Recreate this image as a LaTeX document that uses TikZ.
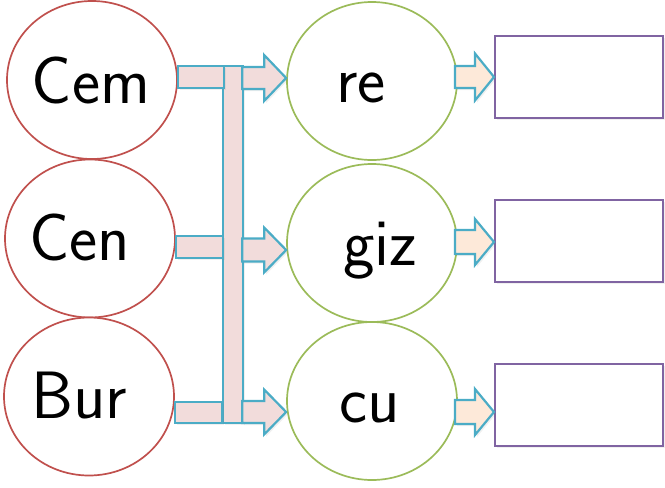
\documentclass[tikz,border=0pt]{standalone}
\usepackage{fontspec}
\usetikzlibrary{shapes.geometric,shadows,calc}

\definecolor{redline}{HTML}{C0504D}
\definecolor{greenline}{HTML}{9BBB59}
\definecolor{purpleline}{HTML}{8064A2}
\definecolor{blueline}{HTML}{4BACC6}
\definecolor{pinkfill}{HTML}{F2DCDB}
\definecolor{peachfill}{HTML}{FDE9D9}

% block arrow: style, tip, length, head length, shaft half width, head half width
\newcommand{\blockarrow}[6]{%
  \draw[#1] (#2) -- ++(-#4,-#6) -- ++(0,#6-#5) -- ++(#4-#3,0) -- ++(0,2*#5)
    -- ++(#3-#4,0) -- ++(0,#6-#5) -- cycle;}

\begin{document}
\begin{tikzpicture}[x=1pt, y=-1pt,
  redell/.style={ellipse, draw=redline, line width=1.7pt, fill=white, minimum width=170pt, minimum height=158pt, inner sep=0pt},
  greenell/.style={ellipse, draw=greenline, line width=1.7pt, fill=white, minimum width=170pt, minimum height=158pt, inner sep=0pt},
  answer/.style={rectangle, draw=purpleline, line width=2pt, fill=white, minimum width=168pt, minimum height=82pt, inner sep=0pt,
    drop shadow={opacity=0.12, shadow xshift=2pt, shadow yshift=-2pt}},
  word/.style={font=\sffamily\fontsize{67}{67}\selectfont, inner sep=0pt, anchor=base},
  bar/.style={draw=blueline, line width=2.2pt, fill=pinkfill,
    drop shadow={opacity=0.12, shadow xshift=2pt, shadow yshift=-2pt}},
  smallarrow/.style={draw=blueline, line width=2.2pt, fill=peachfill, line join=miter,
    drop shadow={opacity=0.12, shadow xshift=2pt, shadow yshift=-2pt}}]
  \useasboundingbox (0,0) rectangle (665,488);

  %% Left column
  \node [redell] (cem) at (92,80) {};
  \node [redell] (cen) at (90,238.5) {};
  \node [redell] (bur) at (89,396.5) {};
  \node [word] (tcem) at (91,103) {Cem};
  \node [word] (tcen) at (80,260) {Cen};
  \node [word] (tbur) at (79,418) {Bur};

  %% Middle column
  \node [greenell] (re) at (372,81) {};
  \node [greenell] (giz) at (372,243) {};
  \node [greenell] (cu) at (372,401) {};
  \node [word] (tre) at (361,102) {re};
  \node [word] (tgiz) at (380,265) {giz};
  \node [word] (tcu) at (370,422) {cu};

  %% Right column
  \node [answer] (box1) at (579,77) {};
  \node [answer] (box2) at (579,241) {};
  \node [answer] (box3) at (579,405) {};

  % Connector bars
  \draw [bar] (223,66) rectangle (243,423);
  \draw [bar] (cem.east |- 0,66) rectangle (224,88);
  \draw [bar] (cen.east |- 0,236) rectangle (223,258);
  \draw [bar] (bur.east |- 0,402) rectangle (222,423);
  \blockarrow{bar}{$(re.west)+(0,-3)$}{44}{22}{11}{23}
  \blockarrow{bar}{$(giz.west)+(0,7)$}{44}{22}{11.5}{22.5}
  \blockarrow{bar}{$(cu.west)+(0,11)$}{44}{22}{11}{22.5}

  % Small arrows
  \blockarrow{smallarrow}{box1.west}{39}{19}{11}{23.5}
  \blockarrow{smallarrow}{$(box2.west)+(0,1)$}{39}{19}{12}{23}
  \blockarrow{smallarrow}{$(box3.west)+(0,7)$}{39}{19}{12}{23}
\end{tikzpicture}
\end{document}
